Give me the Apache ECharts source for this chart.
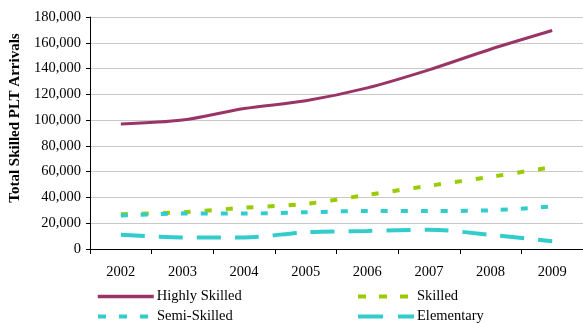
<!DOCTYPE html>
<html><head><meta charset="utf-8">
<script src="https://cdn.jsdelivr.net/npm/echarts@6/dist/echarts.min.js"></script>
<style>html,body{margin:0;padding:0;background:#fff}#c{width:583px;height:323px}</style>
</head><body><div id="c"></div>
<script>
const years = ['2002','2003','2004','2005','2006','2007','2008','2009'];
const highlySkilled = [97000, 100000, 109000, 115000, 125000, 139000, 155000, 169500];
const skilled = [27000, 28500, 32000, 35000, 42000, 49000, 56000, 63500];
const semiSkilled = [26000, 27500, 27500, 28500, 29500, 29500, 30000, 33000];
const elementary = [11000, 9000, 9000, 13000, 14000, 15000, 11000, 6000];

const font = 'Liberation Serif';
const chart = echarts.init(document.getElementById('c'));
function leg(name, left, top, w, dash) {
  const ls = { width: w };
  if (dash) ls.type = dash;
  return { data: [name], left: left, top: top, itemWidth: 56, itemHeight: 12, padding: 0,
    lineStyle: ls,
    itemStyle: { color: 'rgba(0,0,0,0)', borderColor: 'rgba(0,0,0,0)', borderWidth: 0, opacity: 0 },
    textStyle: { fontFamily: font, fontSize: 14.5, color: '#000', padding: [0,0,0,-2] } };
}
chart.setOption({
  animation: false,
  textStyle: { fontFamily: font },
  grid: { left: 84, right: 0, top: 17, bottom: 74 },
  legend: [
    leg('Highly Skilled', 96, 289, 3.5),
    leg('Skilled', 356, 289, 4, [8, 13]),
    leg('Semi-Skilled', 96, 309, 4, [8, 13]),
    leg('Elementary', 356, 309, 4, [25, 15])
  ],
  xAxis: {
    type: 'category', data: years, boundaryGap: true,
    axisLine: { lineStyle: { color: '#000', width: 1 } },
    axisTick: { show: true, length: 5, lineStyle: { color: '#000' } },
    axisLabel: { color: '#000', fontSize: 14.5, fontFamily: font, margin: 16 }
  },
  yAxis: {
    type: 'value', min: 0, max: 180000, interval: 20000,
    name: 'Total Skilled PLT Arrivals', nameLocation: 'middle', nameGap: 63,
    nameTextStyle: { fontFamily: font, fontWeight: 'bold', fontSize: 15, color: '#000', padding: [0, 0, 0, 30] },
    axisLine: { show: true, lineStyle: { color: '#000' } },
    axisTick: { show: true, length: 4, lineStyle: { color: '#000' } },
    splitLine: { lineStyle: { color: '#c8c8c8' } },
    axisLabel: { color: '#000', fontSize: 14.5, fontFamily: font, margin: 9,
      formatter: v => v.toLocaleString('en-US') }
  },
  series: [
    { name: 'Highly Skilled', type: 'line', data: highlySkilled, smooth: 0.3, symbol: 'none',
      lineStyle: { color: '#9b3466', width: 3 }, itemStyle: { color: '#9b3466' } },
    { name: 'Skilled', type: 'line', data: skilled, smooth: 0.3, symbol: 'none',
      lineStyle: { color: '#99cc00', width: 4, type: [7, 14] }, itemStyle: { color: '#99cc00' } },
    { name: 'Semi-Skilled', type: 'line', data: semiSkilled, smooth: 0.3, symbol: 'none',
      lineStyle: { color: '#33cccc', width: 4, type: [7, 13] }, itemStyle: { color: '#33cccc' } },
    { name: 'Elementary', type: 'line', data: elementary, smooth: 0.3, symbol: 'none',
      lineStyle: { color: '#33cccc', width: 4, type: [24, 14] }, itemStyle: { color: '#33cccc' } }
  ]
});
</script></body></html>
